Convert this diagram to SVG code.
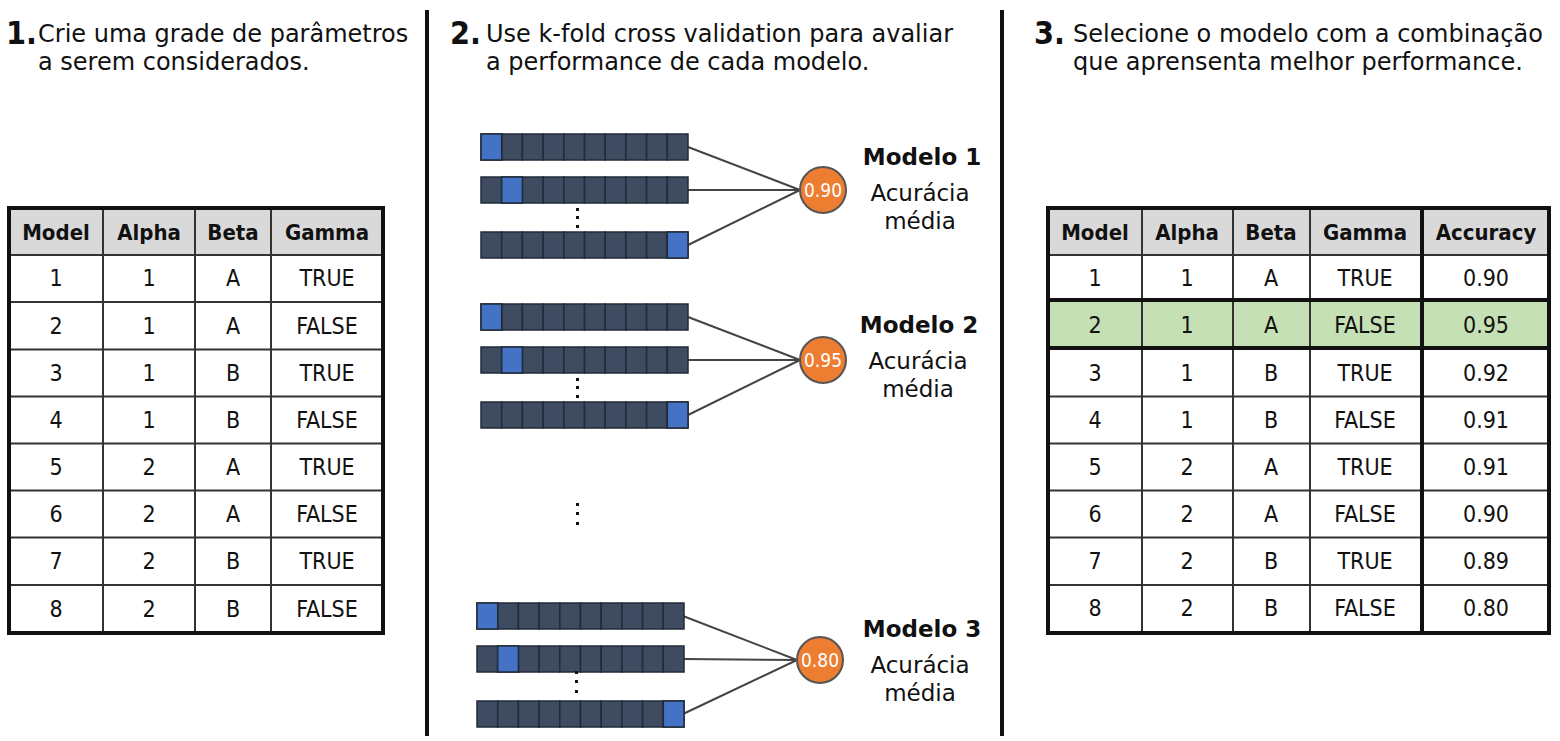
<svg xmlns="http://www.w3.org/2000/svg" width="1560" height="741" viewBox="0 0 1560 741">
<style>
.h{font-family:"DejaVu Sans",sans-serif;font-size:24px;fill:#111}
.num{font-family:"Liberation Sans Narrow","DejaVu Sans Condensed","DejaVu Sans",sans-serif;font-stretch:condensed;font-weight:bold;font-size:32px;fill:#111}
.t{font-family:"Liberation Sans Narrow","DejaVu Sans Condensed","DejaVu Sans",sans-serif;font-stretch:condensed;font-size:23px;fill:#111;text-anchor:middle}
.th{font-weight:bold;font-size:22px}
.grid{stroke:#333;stroke-width:2;fill:none}
.outer{stroke:#111;stroke-width:4;fill:none}
.div{stroke:#111;stroke-width:4}
.cell{fill:#3e4b60;stroke:#222b38;stroke-width:1.5}
.hl{fill:#4472c4;stroke:#222b38;stroke-width:1.5}
.conn{stroke:#444;stroke-width:2;fill:none}
.circ{fill:#ed7d31;stroke:#555;stroke-width:2}
.ct{font-family:"Liberation Sans Narrow","DejaVu Sans Condensed","DejaVu Sans",sans-serif;font-stretch:condensed;font-size:19px;fill:#fff;text-anchor:middle}
.mt{font-family:"DejaVu Sans",sans-serif;font-size:23px;fill:#111;text-anchor:middle}
.mb{font-weight:bold}
.dot{fill:#111}
</style>
<defs>
<g id="bar">
<rect class="cell" x="0" y="0" width="20.7" height="26"/>
<rect class="cell" x="20.7" y="0" width="20.7" height="26"/>
<rect class="cell" x="41.4" y="0" width="20.7" height="26"/>
<rect class="cell" x="62.1" y="0" width="20.7" height="26"/>
<rect class="cell" x="82.8" y="0" width="20.7" height="26"/>
<rect class="cell" x="103.5" y="0" width="20.7" height="26"/>
<rect class="cell" x="124.2" y="0" width="20.7" height="26"/>
<rect class="cell" x="144.9" y="0" width="20.7" height="26"/>
<rect class="cell" x="165.6" y="0" width="20.7" height="26"/>
<rect class="cell" x="186.3" y="0" width="20.7" height="26"/>
</g>
</defs>
<rect width="1560" height="741" fill="#fff"/>

<!-- dividers -->
<line class="div" x1="427" y1="10" x2="427" y2="736"/>
<line class="div" x1="1002" y1="10" x2="1002" y2="736"/>

<!-- headings -->
<g id="step1">
<text class="num" x="6" y="44">1.</text>
<text class="h" x="38" y="42">Crie uma grade de parâmetros</text>
<text class="h" x="38" y="70">a serem considerados.</text>
</g>
<g id="step2">
<text class="num" x="450" y="44">2.</text>
<text class="h" x="486" y="42">Use k-fold cross validation para avaliar</text>
<text class="h" x="486" y="70">a performance de cada modelo.</text>
</g>
<g id="step3">
<text class="num" x="1034" y="44">3.</text>
<text class="h" x="1073" y="42">Selecione o modelo com a combinação</text>
<text class="h" x="1073" y="70">que aprensenta melhor performance.</text>
</g>

<!-- left table -->
<g id="table1">
<rect x="9" y="208" width="374" height="47" fill="#d9d9d9"/>
<g class="grid">
<line x1="9" y1="255" x2="383" y2="255"/>
<line x1="9" y1="302" x2="383" y2="302"/>
<line x1="9" y1="349.5" x2="383" y2="349.5"/>
<line x1="9" y1="396.5" x2="383" y2="396.5"/>
<line x1="9" y1="443.5" x2="383" y2="443.5"/>
<line x1="9" y1="490.5" x2="383" y2="490.5"/>
<line x1="9" y1="537.5" x2="383" y2="537.5"/>
<line x1="9" y1="585" x2="383" y2="585"/>
<line x1="103" y1="208" x2="103" y2="633"/>
<line x1="195" y1="208" x2="195" y2="633"/>
<line x1="271" y1="208" x2="271" y2="633"/>
</g>
<rect class="outer" x="9" y="208" width="374" height="425"/>
<g class="t th">
<text x="56" y="240">Model</text><text x="149" y="240">Alpha</text><text x="233" y="240">Beta</text><text x="327" y="240">Gamma</text>
</g>
<g class="t">
<text x="56" y="286">1</text><text x="149" y="286">1</text><text x="233" y="286">A</text><text x="327" y="286">TRUE</text>
<text x="56" y="334">2</text><text x="149" y="334">1</text><text x="233" y="334">A</text><text x="327" y="334">FALSE</text>
<text x="56" y="381">3</text><text x="149" y="381">1</text><text x="233" y="381">B</text><text x="327" y="381">TRUE</text>
<text x="56" y="428">4</text><text x="149" y="428">1</text><text x="233" y="428">B</text><text x="327" y="428">FALSE</text>
<text x="56" y="475">5</text><text x="149" y="475">2</text><text x="233" y="475">A</text><text x="327" y="475">TRUE</text>
<text x="56" y="522">6</text><text x="149" y="522">2</text><text x="233" y="522">A</text><text x="327" y="522">FALSE</text>
<text x="56" y="569">7</text><text x="149" y="569">2</text><text x="233" y="569">B</text><text x="327" y="569">TRUE</text>
<text x="56" y="617">8</text><text x="149" y="617">2</text><text x="233" y="617">B</text><text x="327" y="617">FALSE</text>
</g>
</g>

<!-- right table -->
<g id="table2">
<rect x="1048" y="208" width="501" height="47" fill="#d9d9d9"/>
<rect x="1048" y="300" width="501" height="48" fill="#c5e0b4"/>
<g class="grid">
<line x1="1048" y1="255" x2="1549" y2="255"/>
<line x1="1048" y1="396.5" x2="1549" y2="396.5"/>
<line x1="1048" y1="443.5" x2="1549" y2="443.5"/>
<line x1="1048" y1="490.5" x2="1549" y2="490.5"/>
<line x1="1048" y1="537.5" x2="1549" y2="537.5"/>
<line x1="1048" y1="585" x2="1549" y2="585"/>
<line x1="1142" y1="208" x2="1142" y2="633"/>
<line x1="1233" y1="208" x2="1233" y2="633"/>
<line x1="1310" y1="208" x2="1310" y2="633"/>
</g>
<g class="outer">
<line x1="1048" y1="300" x2="1549" y2="300"/>
<line x1="1048" y1="348" x2="1549" y2="348"/>
<line x1="1422" y1="208" x2="1422" y2="633"/>
<rect x="1048" y="208" width="501" height="425"/>
</g>
<g class="t th">
<text x="1095" y="240">Model</text><text x="1187" y="240">Alpha</text><text x="1271" y="240">Beta</text><text x="1365" y="240">Gamma</text><text x="1486" y="240">Accuracy</text>
</g>
<g class="t">
<text x="1095" y="286">1</text><text x="1187" y="286">1</text><text x="1271" y="286">A</text><text x="1365" y="286">TRUE</text><text x="1486" y="286">0.90</text>
<text x="1095" y="333">2</text><text x="1187" y="333">1</text><text x="1271" y="333">A</text><text x="1365" y="333">FALSE</text><text x="1486" y="333">0.95</text>
<text x="1095" y="381">3</text><text x="1187" y="381">1</text><text x="1271" y="381">B</text><text x="1365" y="381">TRUE</text><text x="1486" y="381">0.92</text>
<text x="1095" y="428">4</text><text x="1187" y="428">1</text><text x="1271" y="428">B</text><text x="1365" y="428">FALSE</text><text x="1486" y="428">0.91</text>
<text x="1095" y="475">5</text><text x="1187" y="475">2</text><text x="1271" y="475">A</text><text x="1365" y="475">TRUE</text><text x="1486" y="475">0.91</text>
<text x="1095" y="522">6</text><text x="1187" y="522">2</text><text x="1271" y="522">A</text><text x="1365" y="522">FALSE</text><text x="1486" y="522">0.90</text>
<text x="1095" y="569">7</text><text x="1187" y="569">2</text><text x="1271" y="569">B</text><text x="1365" y="569">TRUE</text><text x="1486" y="569">0.89</text>
<text x="1095" y="616">8</text><text x="1187" y="616">2</text><text x="1271" y="616">B</text><text x="1365" y="616">FALSE</text><text x="1486" y="616">0.80</text>
</g>
</g>

<!-- connectors -->
<g id="connectors">
<path class="conn" d="M688 147 L800 190 M688 190 L800 190 M688 245 L800 190"/>
<path class="conn" d="M688 317 L800 360 M688 360 L800 360 M688 415 L800 360"/>
<path class="conn" d="M683 616 L797 660 M683 659 L797 660 M683 714 L797 660"/>
</g>

<!-- model 1 -->
<g id="model1">
<use href="#bar" x="481" y="134"/>
<rect class="hl" x="481" y="134" width="20.7" height="26"/>
<use href="#bar" x="481" y="177"/>
<rect class="hl" x="501.7" y="177" width="20.7" height="26"/>
<use href="#bar" x="481" y="232"/>
<rect class="hl" x="667.3" y="232" width="20.7" height="26"/>
<rect class="dot" x="576" y="208" width="3" height="3"/><rect class="dot" x="576" y="216" width="3" height="3"/><rect class="dot" x="576" y="225" width="3" height="3"/>
<circle class="circ" cx="823" cy="190" r="23"/>
<text class="ct" x="823" y="197">0.90</text>
<text class="mt mb" x="922" y="165">Modelo 1</text>
<text class="mt" x="920" y="201">Acurácia</text>
<text class="mt" x="920" y="229">média</text>
</g>

<!-- model 2 -->
<g id="model2">
<use href="#bar" x="481" y="304"/>
<rect class="hl" x="481" y="304" width="20.7" height="26"/>
<use href="#bar" x="481" y="347"/>
<rect class="hl" x="501.7" y="347" width="20.7" height="26"/>
<use href="#bar" x="481" y="402"/>
<rect class="hl" x="667.3" y="402" width="20.7" height="26"/>
<rect class="dot" x="576" y="378" width="3" height="3"/><rect class="dot" x="576" y="386" width="3" height="3"/><rect class="dot" x="576" y="395" width="3" height="3"/>
<circle class="circ" cx="823" cy="360" r="23"/>
<text class="ct" x="823" y="367">0.95</text>
<text class="mt mb" x="919" y="333">Modelo 2</text>
<text class="mt" x="918" y="369">Acurácia</text>
<text class="mt" x="918" y="397">média</text>
</g>

<!-- middle dots -->
<g id="ellipsis">
<rect class="dot" x="576" y="503" width="3" height="3"/><rect class="dot" x="576" y="512" width="3" height="3"/><rect class="dot" x="576" y="522" width="3" height="3"/>
</g>

<!-- model 3 -->
<g id="model3">
<use href="#bar" x="477" y="603"/>
<rect class="hl" x="477" y="603" width="20.7" height="26"/>
<use href="#bar" x="477" y="646"/>
<rect class="hl" x="497.7" y="646" width="20.7" height="26"/>
<use href="#bar" x="477" y="701"/>
<rect class="hl" x="663.3" y="701" width="20.7" height="26"/>
<rect class="dot" x="575" y="671" width="3" height="3"/><rect class="dot" x="575" y="680" width="3" height="3"/><rect class="dot" x="575" y="690" width="3" height="3"/>
<circle class="circ" cx="820" cy="660" r="23"/>
<text class="ct" x="820" y="667">0.80</text>
<text class="mt mb" x="922" y="637">Modelo 3</text>
<text class="mt" x="920" y="673">Acurácia</text>
<text class="mt" x="920" y="701">média</text>
</g>
</svg>
